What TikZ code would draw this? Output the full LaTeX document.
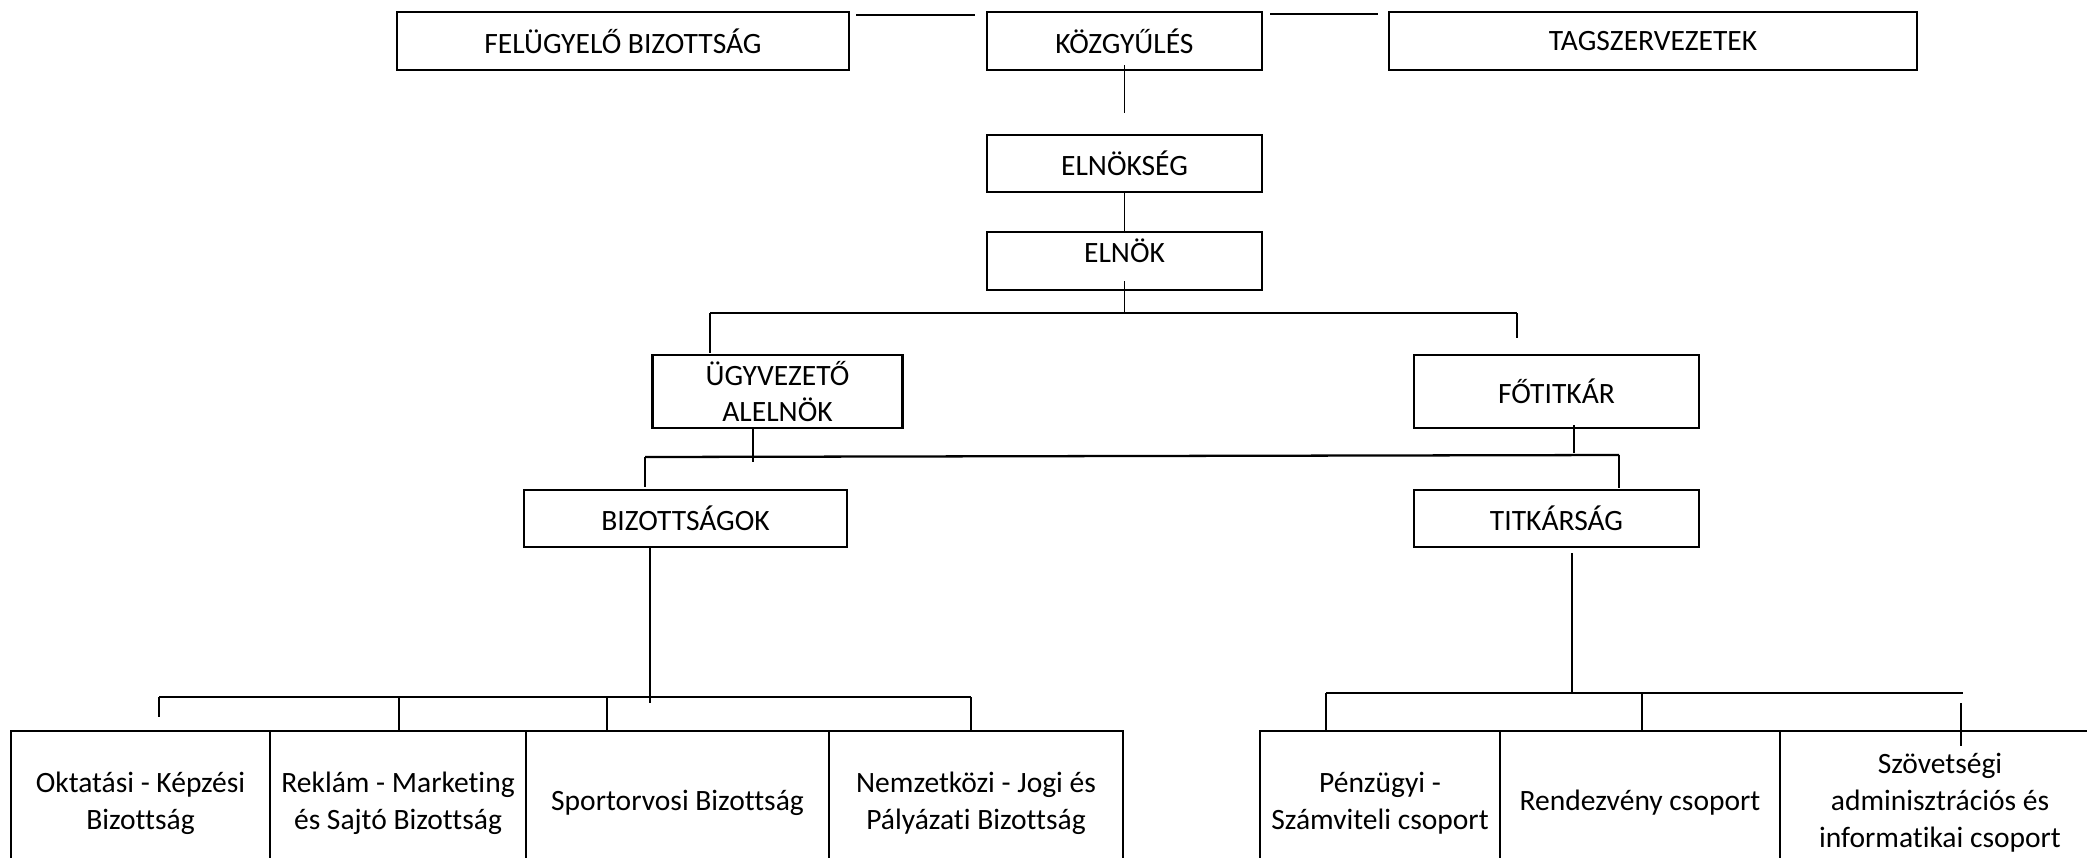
\documentclass[tikz,border=0pt]{standalone}
\usepackage{fontspec}
\setmainfont{Carlito}[Ligatures=NoCommon]
\usetikzlibrary{positioning}

\begin{document}
\begin{tikzpicture}[
    box/.style={draw, line width=0.6pt, inner sep=0pt, outer sep=0pt, align=center,
      font=\fontsize{8.4}{10.5}\selectfont, minimum height=0.58cm},
    unit/.style={box, minimum height=1.44cm, anchor=west},
    lnk/.style={line width=0.5pt},
    bar/.style={line width=0.65pt}]
  \useasboundingbox (0,0) rectangle (20.87,-8.57);
  \clip (0,0) rectangle (20.87,-8.57);
  % top row
  \node[box, minimum width=4.52cm] (fb) at (6.23,-0.41) {FELÜGYELŐ BIZOTTSÁG};
  \node[box, minimum width=2.75cm] (kgy) at (11.245,-0.41) {KÖZGYŰLÉS};
  \node[box, minimum width=5.28cm] (tag) at (16.53,-0.41) {TAGSZERVEZETEK};
  \node[box, minimum width=2.75cm, minimum height=0.57cm] (elnseg) at (11.245,-1.635) {ELNÖKSÉG};
  \node[box, minimum width=2.75cm, text depth=0.2cm] (elnok) at (11.245,-2.61) {ELNÖK};
  % second level
  \node[box, minimum width=2.50cm, minimum height=0.73cm] (ugy) at (7.775,-3.915) {ÜGYVEZETŐ\\ALELNÖK};
  \node[box, minimum width=2.85cm, minimum height=0.73cm] (fot) at (15.565,-3.915) {FŐTITKÁR};
  \node[box, minimum width=3.23cm, minimum height=0.57cm] (biz) at (6.855,-5.185) {BIZOTTSÁGOK};
  \node[box, minimum width=2.85cm, minimum height=0.57cm] (tit) at (15.565,-5.185) {TITKÁRSÁG};
  % committees
  \node[unit, minimum width=2.59cm] (okt) at (0.11,-8.03) {Oktatási - Képzési\\Bizottság};
  \node[unit, minimum width=2.56cm, right=0pt of okt] (rek) {Reklám - Marketing\\és Sajtó Bizottság};
  \node[unit, minimum width=3.03cm, right=0pt of rek] (spo) {Sportorvosi Bizottság};
  \node[unit, minimum width=2.94cm, right=0pt of spo] (nem) {Nemzetközi - Jogi és\\Pályázati Bizottság};
  % groups
  \node[unit, minimum width=2.40cm] (pen) at (12.60,-8.03) {Pénzügyi -\\Számviteli csoport};
  \node[unit, minimum width=2.80cm, right=0pt of pen] (ren) {Rendezvény csoport};
  \node[unit, minimum width=3.20cm, right=0pt of ren] (szo) {Szövetségi\\adminisztrációs és\\informatikai csoport};

  % top links
  \draw[bar, shorten <=0.07cm, shorten >=0.12cm] ([yshift=-0.03cm]fb.north east) -- ([yshift=-0.03cm]kgy.north west);
  \draw[bar, shorten <=0.08cm, shorten >=0.11cm] ([yshift=-0.017cm]kgy.north east) -- ([yshift=-0.017cm]tag.north west);
  \draw[lnk, shorten <=-0.05cm, shorten >=0.22cm] (kgy.south) -- (elnseg.north);
  \draw[lnk] (elnseg) -- (elnok);

  \coordinate (j1) at (11.245,-3.13);
  \coordinate (j1l) at (7.10,-3.13);
  \coordinate (j1r) at (15.17,-3.13);
  \draw[lnk, shorten <=-0.09cm] (elnok.south) -- (j1);
  \draw[bar] (j1l) -- (j1r);
  \draw[lnk, shorten >=0.02cm] (j1l) -- (j1l |- ugy.north);
  \draw[lnk, shorten >=0.17cm] (j1r) -- (j1r |- fot.north);

  \coordinate (j2l) at (6.45,-4.57);
  \coordinate (j2r) at (16.19,-4.55);
  \draw[lnk] ([xshift=-0.245cm]ugy.south) -- ++(0,-0.34);
  \draw[lnk] ([xshift=0.175cm, yshift=0.03cm]fot.south) -- ++(0,-0.28);
  \draw[bar] (j2l) -- (j2r);
  \draw[lnk, shorten >=0.03cm] (j2l) -- (j2l |- biz.north);
  \draw[lnk, shorten >=0.02cm] (j2r) -- (j2r |- tit.north);

  % committees links
  \coordinate (j3l) at (1.59,-6.97);
  \coordinate (j3r) at (9.71,-6.97);
  \coordinate (d2) at (3.99,-6.97);
  \coordinate (d3) at (6.07,-6.97);
  \draw[lnk] ([xshift=-0.355cm]biz.south) -- ++(0,-1.56);
  \draw[bar] (j3l) -- (j3r);
  \draw[lnk] (j3l) -- ++(0,-0.20);
  \draw[lnk] (d2) -- (d2 |- rek.north);
  \draw[lnk] (d3) -- (d3 |- spo.north);
  \draw[lnk] (j3r) -- (j3r |- nem.north);

  % groups links
  \coordinate (j4l) at (13.26,-6.93);
  \coordinate (j4r) at (19.63,-6.93);
  \coordinate (e2) at (16.42,-6.93);
  \coordinate (e3) at (19.61,-7.03);
  \draw[lnk] ([xshift=0.155cm, yshift=-0.06cm]tit.south) -- ++(0,-1.40);
  \draw[bar] (j4l) -- (j4r);
  \draw[lnk] (j4l) -- (j4l |- pen.north);
  \draw[lnk] (e2) -- (e2 |- ren.north);
  \draw[lnk] (e3) -- ++(0,-0.43);
\end{tikzpicture}
\end{document}
